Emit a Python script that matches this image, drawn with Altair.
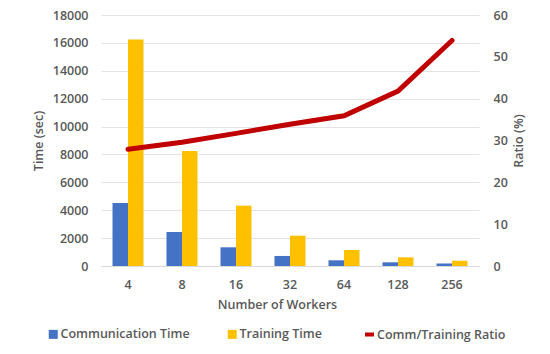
import altair as alt
import pandas as pd

workers = ["4", "8", "16", "32", "64", "128", "256"]
comm_time = [4520, 2440, 1340, 720, 410, 265, 180]
train_time = [16250, 8250, 4330, 2175, 1150, 620, 380]
ratio = [27.9, 29.6, 31.7, 33.9, 35.9, 41.8, 53.9]

series_names = ["Communication Time", "Training Time"]
line_name = "Comm/Training Ratio"
left_ticks = list(range(0, 18001, 2000))
right_ticks = list(range(0, 61, 10))

bars = pd.DataFrame({
    "workers": workers * 2,
    "series": [series_names[0]] * len(workers) + [series_names[1]] * len(workers),
    "time": comm_time + train_time,
})
line = pd.DataFrame({"workers": workers, "ratio": ratio, "name": [line_name] * len(workers)})

FONT = "Open Sans"
GREY = "#595959"
FS = 12.5
FW = 600

x_enc = alt.X(
    "workers:N", sort=workers,
    scale=alt.Scale(paddingInner=0.426, paddingOuter=0.213),
    axis=alt.Axis(title="Number of Workers", labelAngle=0, ticks=False,
                  domainColor="#d9d9d9", labelPadding=12, titlePadding=8,
                  titleX=176, titleAnchor="middle"),
)

bar_chart = alt.Chart(bars).mark_bar().encode(
    x=x_enc,
    xOffset=alt.XOffset("series:N", sort=series_names,
                        scale=alt.Scale(paddingInner=0, paddingOuter=0)),
    y=alt.Y("time:Q", scale=alt.Scale(domain=[0, 18000], nice=False),
            axis=alt.Axis(title="Time (sec)", values=left_ticks, format="d", grid=True,
                          gridColor="#e3e3e3", domain=False, ticks=False,
                          labelPadding=13, titlePadding=7)),
    color=alt.Color("series:N", sort=series_names,
                    scale=alt.Scale(domain=series_names, range=["#4472C4", "#FFC000"]),
                    legend=alt.Legend(title=None, orient="none", direction="horizontal",
                                      legendX=-54, legendY=313, symbolType="square",
                                      symbolSize=81, symbolStrokeWidth=0, labelOffset=1,
                                      columnPadding=36, padding=0)),
)

line_chart = alt.Chart(line).mark_line(strokeWidth=5, strokeCap="round").encode(
    x=alt.X("workers:N", sort=workers),
    y=alt.Y("ratio:Q", scale=alt.Scale(domain=[0, 60], nice=False),
            axis=alt.Axis(title="Ratio (%)", orient="right", values=right_ticks,
                          format="d", grid=False, domain=False, ticks=False,
                          labelPadding=14, titlePadding=18, titleAngle=270)),
    stroke=alt.Stroke("name:N",
                      scale=alt.Scale(domain=[line_name], range=["#C00000"]),
                      legend=alt.Legend(title=None, orient="none", direction="horizontal",
                                        legendX=262, legendY=313,
                                        symbolType="stroke", symbolSize=81,
                                        symbolStrokeWidth=4, labelOffset=1, padding=0)),
)

chart = alt.layer(bar_chart, line_chart).resolve_scale(
    y="independent", color="independent"
).properties(
    width=378, height=251,
    autosize=alt.AutoSizeParams(type="none"),
    padding={"left": 93, "top": 7, "right": 55, "bottom": 80},
    background="white",
).configure_view(stroke=None).configure_axis(
    labelFont=FONT, titleFont=FONT, labelFontSize=FS, titleFontSize=FS,
    labelColor=GREY, titleColor=GREY, labelFontWeight=FW, titleFontWeight=FW,
).configure_legend(
    labelFont=FONT, labelFontSize=FS, labelColor=GREY, labelFontWeight=FW,
)

chart.save("out.html", embed_options={"renderer": "svg", "actions": False})
